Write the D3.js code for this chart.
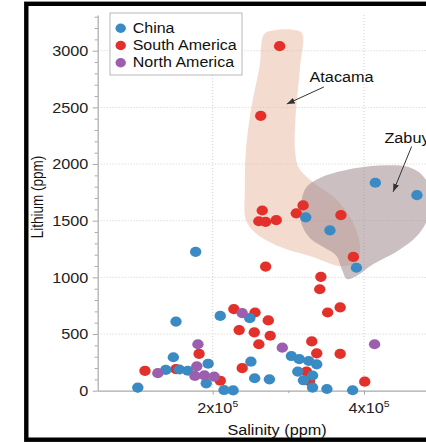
<!DOCTYPE html>
<html>
<head>
<meta charset="utf-8">
<script src="https://cdn.jsdelivr.net/npm/d3@7"></script>
<style>
  html, body { margin: 0; padding: 0; background: #fff; overflow: hidden; }
  svg { display: block; font-family: "Liberation Sans", Arial, Helvetica, sans-serif; }
</style>
</head>
<body>
<svg id="chart" width="426" height="443"></svg>
<script>
// ---- data: salinity (ppm) and lithium (ppm) per brine sample ----
const chinaSalinity = [415000, 470000, 323000, 355000, 390000, 177500, 151500, 210000, 249000, 148000,
                       138000, 156000, 167000, 194000, 191500, 101000, 215000, 227000, 250500, 255500,
                       275000, 304000, 314500, 327000, 337500, 312500, 332000, 320000, 332000, 351000, 385000];
const chinaLithium  = [1835, 1725, 1530, 1415, 1085, 1225, 610, 660, 640, 295,
                       183, 187, 176, 238, 65, 28, 6, 2, 256, 110,
                       100, 306, 278, 262, 233, 169, 134, 92, 28, 15, 4];

const saSalinity = [288500, 263500, 265500, 261000, 270000, 284000, 310500, 319500, 369500, 386000,
                    270000, 343000, 341500, 352000, 368500, 331000, 337500, 368500, 401000, 228000,
                    256000, 273500, 235000, 255000, 276000, 261000, 239000, 324000, 328000, 182000,
                    110500, 151500, 210000];
const saLithium  = [3040, 2425, 1590, 1495, 1490, 1505, 1565, 1635, 1550, 1180,
                    1095, 1005, 895, 690, 735, 435, 330, 325, 80, 720,
                    690, 620, 535, 515, 485, 410, 200, 168, 85, 325,
                    175, 190, 88];

const naSalinity = [414000, 239000, 292000, 180500, 127500, 179000, 176500, 189000, 202000];
const naLithium  = [410, 685, 380, 410, 155, 215, 130, 135, 125];

// outlines of the two highlighted brine fields (salinity, lithium)
const atacamaSalinity = [268000, 282000, 305000, 318000, 315500, 309500, 309000, 314000, 332500, 361500, 384000,
                         394500, 390500, 368500, 332500, 289000, 257000, 244000, 242500, 244000, 250500, 262000];
const atacamaLithium  = [3145, 3180, 3185, 3155, 2855, 2415, 2105, 1965, 1840, 1700, 1505,
                         1285, 1135, 1100, 1180, 1270, 1390, 1505, 1770, 2125, 2475, 2860];
const zabuyeSalinity = [323500, 344500, 389500, 429000, 458000, 476500, 488500, 486000, 471500, 445000,
                        410500, 389500, 377500, 371000, 363000, 344500, 327500, 316500, 316500];
const zabuyeLithium  = [1790, 1885, 1965, 1990, 1975, 1905, 1755, 1550, 1375, 1235,
                        1110, 1010, 985, 1065, 1195, 1275, 1355, 1490, 1640];

// axis ticks
const yMajor = [0, 500, 1000, 1500, 2000, 2500, 3000];
const xMajor = [200000, 400000];
const xMinor = [100000, 300000, 500000];

const legendNames = ["China", "South America", "North America"];
const legendColors = ["#3a8bc3", "#e3302a", "#9b5fae"];

// ---- drawing ----
const svg = d3.select("#chart");
const FONT = "'Liberation Sans', Arial, Helvetica, sans-serif";
const SX = 1.16; // glyphs are drawn slightly wide

const x = d3.scaleLinear().domain([48000, 540000]).range([97.7, 469.9]);
const y = d3.scaleLinear().domain([0, 3315]).range([390.7, 15]);

// outer frame
svg.append("rect")
  .attr("x", 26.3).attr("y", 3.8)
  .attr("width", 540).attr("height", 435.9)
  .attr("fill", "#fff").attr("stroke", "#000").attr("stroke-width", 4.4);

// dotted grid
const grid = svg.append("g").attr("stroke", "#cfcfcf").attr("stroke-width", 1).attr("stroke-dasharray", "1,2");
grid.selectAll("line.h").data(yMajor.filter(d => d > 0)).join("line").attr("class", "h")
  .attr("x1", x.range()[0]).attr("x2", x.range()[1])
  .attr("y1", d => y(d)).attr("y2", d => y(d));
grid.selectAll("line.v").data(xMajor).join("line").attr("class", "v")
  .attr("x1", d => x(d)).attr("x2", d => x(d))
  .attr("y1", y.range()[1]).attr("y2", y.range()[0]);

// brine field regions
const region = d3.line()
  .x(d => x(d[0])).y(d => y(d[1]))
  .curve(d3.curveCatmullRomClosed.alpha(0.5));

svg.append("path")
  .attr("d", region(d3.zip(atacamaSalinity, atacamaLithium)))
  .attr("fill", "#eab89f").attr("fill-opacity", 0.5);
svg.append("path")
  .attr("d", region(d3.zip(zabuyeSalinity, zabuyeLithium)))
  .attr("fill", "#a08b90").attr("fill-opacity", 0.55);

// axes
const axisColor = "#a9a9a9";
const yAxis = svg.append("g")
  .attr("transform", `translate(${x.range()[0]},0)`)
  .call(d3.axisLeft(y).tickValues(yMajor).tickSize(5).tickSizeOuter(0).tickFormat(d3.format("d")))
  .attr("font-family", FONT).attr("font-size", 14);
yAxis.select(".domain").attr("stroke", axisColor).attr("stroke-width", 1.2);
yAxis.selectAll(".tick line").attr("stroke", axisColor);
yAxis.selectAll(".tick text")
  .attr("x", null).attr("dy", "0.34em").attr("fill", "#222")
  .attr("transform", `translate(-9.4,0) scale(${SX},1)`);

svg.append("g")
  .attr("transform", `translate(${x.range()[0]},0)`)
  .call(d3.axisLeft(y).tickValues(d3.range(0, 3301, 100).filter(d => d % 500)).tickSize(3).tickSizeOuter(0).tickFormat(""))
  .call(g => g.select(".domain").remove())
  .selectAll(".tick line").attr("stroke", axisColor);

const xAxis = svg.append("g")
  .attr("transform", `translate(0,${y.range()[0]})`)
  .call(d3.axisBottom(x).tickValues(xMajor).tickSize(4).tickSizeOuter(0))
  .attr("font-family", FONT).attr("font-size", 14);
xAxis.select(".domain").attr("stroke", axisColor).attr("stroke-width", 1.2);
xAxis.selectAll(".tick line").attr("stroke", axisColor);
xAxis.selectAll(".tick text").each(function(d) {
  const t = d3.select(this);
  t.text(null).attr("y", null).attr("dy", null)
    .attr("text-anchor", "start").attr("fill", "#222")
    .attr("transform", `translate(-16,22) scale(${SX},1)`);
  t.append("tspan").text(`${d / 1e5}x10`);
  t.append("tspan").attr("font-size", 9).attr("dy", -5.5).text("5");
});

svg.append("g")
  .attr("transform", `translate(0,${y.range()[0]})`)
  .call(d3.axisBottom(x).tickValues(xMinor).tickSize(2.5).tickSizeOuter(0).tickFormat(""))
  .call(g => g.select(".domain").remove())
  .selectAll(".tick line").attr("stroke", axisColor);

// axis titles
svg.append("text")
  .attr("transform", `translate(277,434.5) scale(${SX},1)`)
  .attr("text-anchor", "middle").attr("font-family", FONT).attr("font-size", 14).attr("fill", "#111")
  .text("Salinity (ppm)");
svg.append("text")
  .attr("transform", "translate(43,197) rotate(-90) scale(1,1.16)")
  .attr("text-anchor", "middle").attr("font-family", FONT).attr("font-size", 13.5).attr("fill", "#111")
  .text("Lithium (ppm)");

// sample points
const groups = [
  { sal: saSalinity, li: saLithium, color: legendColors[1] },
  { sal: chinaSalinity, li: chinaLithium, color: legendColors[0] },
  { sal: naSalinity, li: naLithium, color: legendColors[2] }
];
groups.forEach(gp => {
  svg.append("g").selectAll("ellipse")
    .data(d3.zip(gp.sal, gp.li))
    .join("ellipse")
    .attr("cx", d => x(d[0])).attr("cy", d => y(d[1]))
    .attr("rx", 5.7).attr("ry", 5.1)
    .attr("fill", gp.color);
});

// annotations
const defs = svg.append("defs");
defs.append("marker")
  .attr("id", "arrow").attr("viewBox", "0 0 8 6")
  .attr("refX", 8).attr("refY", 3)
  .attr("markerWidth", 8).attr("markerHeight", 6)
  .attr("markerUnits", "userSpaceOnUse").attr("orient", "auto")
  .append("path").attr("d", "M0,0L8,3L0,6Z").attr("fill", "#333");

const notes = [
  { label: "Atacama", at: [328000, 2725], from: [347000, 2680], to: [298000, 2530] },
  { label: "Zabuye",  at: [427000, 2190], from: [463000, 2155], to: [438500, 1755] }
];
notes.forEach(n => {
  svg.append("text")
    .attr("transform", `translate(${x(n.at[0])},${y(n.at[1])}) scale(${SX},1)`)
    .attr("font-family", FONT).attr("font-size", 14).attr("fill", "#111")
    .text(n.label);
  svg.append("line")
    .attr("x1", x(n.from[0])).attr("y1", y(n.from[1]))
    .attr("x2", x(n.to[0])).attr("y2", y(n.to[1]))
    .attr("stroke", "#333").attr("stroke-width", 1)
    .attr("marker-end", "url(#arrow)");
});

// legend
const legend = svg.append("g");
legend.append("rect")
  .attr("x", 110).attr("y", 13).attr("width", 132).attr("height", 62)
  .attr("fill", "#fff").attr("stroke", "#b8b8b8").attr("stroke-width", 1);
legendNames.forEach((name, i) => {
  const cy = 28.3 + i * 17.2;
  legend.append("ellipse")
    .attr("cx", 120.7).attr("cy", cy).attr("rx", 5.2).attr("ry", 4.7)
    .attr("fill", legendColors[i]);
  legend.append("text")
    .attr("transform", `translate(132.7,${cy + 4.6}) scale(${SX},1)`)
    .attr("font-family", FONT).attr("font-size", 13.8).attr("fill", "#111")
    .text(name);
});
</script>
</body>
</html>
